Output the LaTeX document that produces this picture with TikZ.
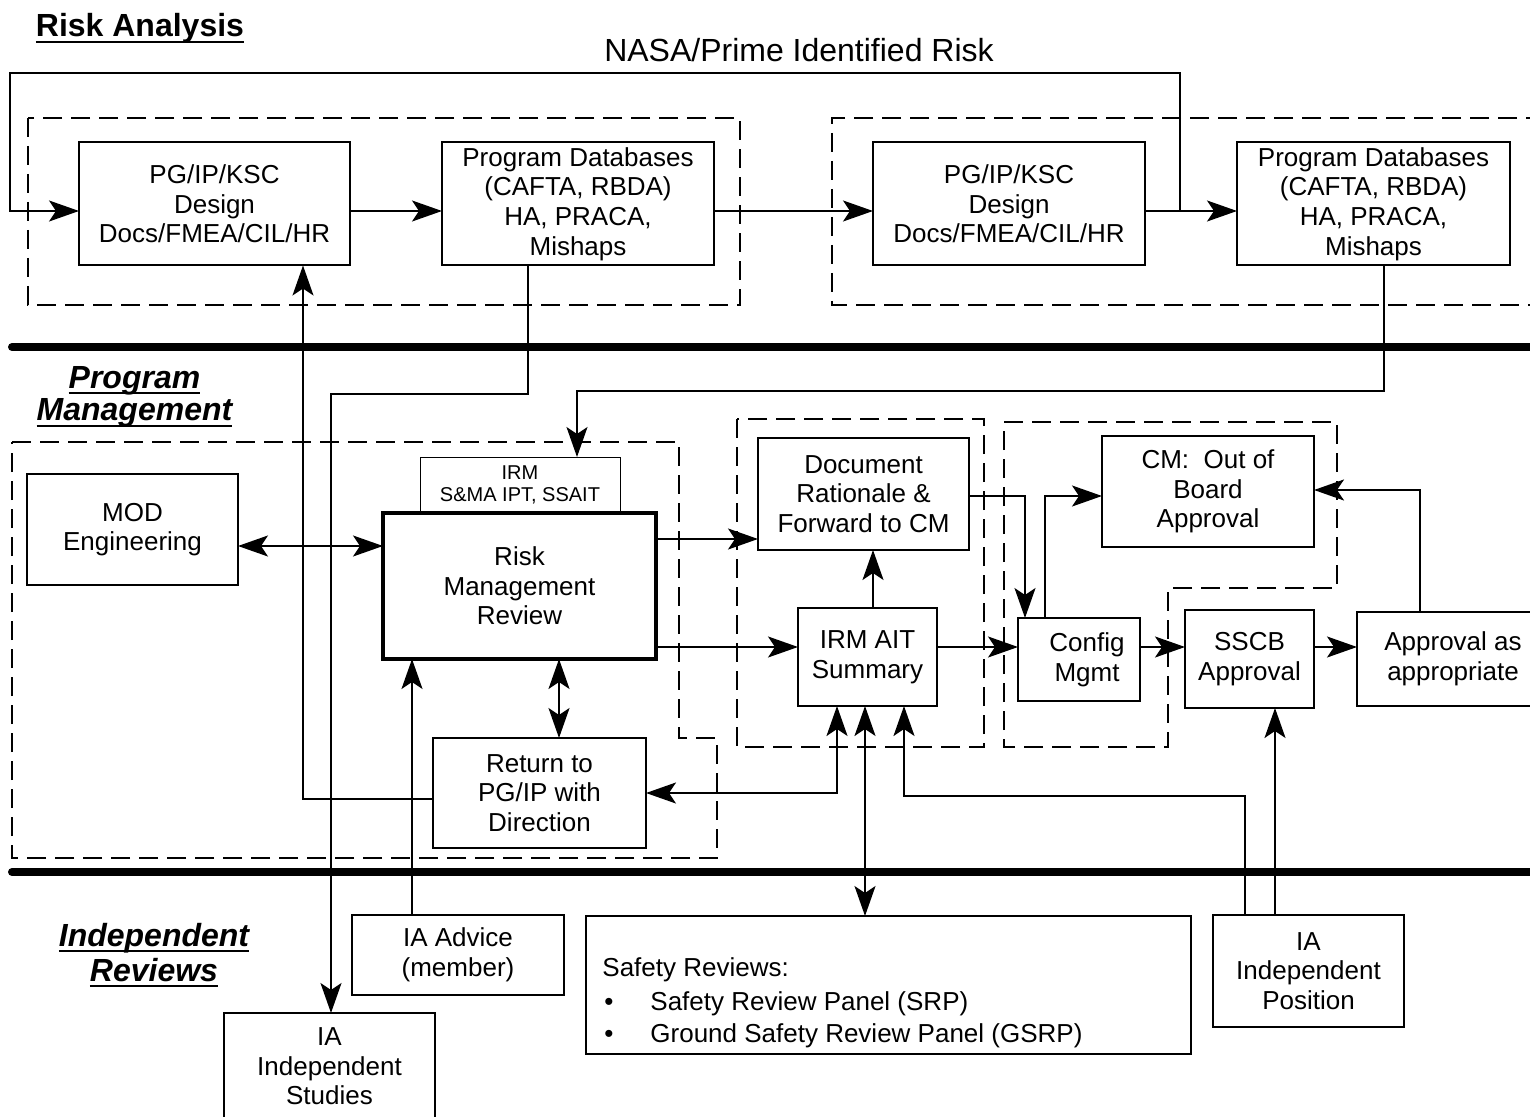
\documentclass[tikz,border=0pt]{standalone}
\usepackage{fontspec}
\setmainfont{Liberation Sans}
\usetikzlibrary{arrows.meta}
\newsavebox\hdbox
\newcommand\hdul[1]{\sbox\hdbox{#1}\rlap{\rule[-3pt]{\wd\hdbox}{1pt}}\usebox\hdbox}
\tikzset{
  sz/.style 2 args={minimum width=#1*0.5pt, minimum height=#2*0.5pt},
  box/.style={draw, line width=1pt, inner sep=0pt, outer sep=0pt, align=center,
              font=\fontsize{13}{14.8}\selectfont},
  smallbox/.style={box, line width=0.5pt, font=\fontsize{10}{11}\selectfont},
  thickbox/.style={box, line width=1.6pt},
  dbox/.style={draw, line width=1pt, dash pattern=on 9.5pt off 4.5pt},
  sepline/.style={line width=4pt, line cap=round},
  conn/.style={line width=1pt},
  tipa/.tip={Stealth[length=15pt,width=10.5pt,inset=3.5pt]},
  arr/.style={conn, -tipa},
  dblarr/.style={conn, tipa-tipa},
  headb/.style={inner sep=0pt, anchor=base, font=\fontsize{16}{17}\selectfont\bfseries},
  headbi/.style={inner sep=0pt, anchor=base, font=\fontsize{16}{17}\selectfont\bfseries\itshape},
  titletxt/.style={inner sep=0pt, anchor=base, font=\fontsize{16}{17}\selectfont},
  plaintxt/.style={inner sep=0pt, anchor=base west, font=\fontsize{13}{14.8}\selectfont}
}
\begin{document}
\begin{tikzpicture}[x=0.5pt,y=-0.5pt]
\useasboundingbox (0,0) rectangle (1530,1117);

% headings
\node[headb] (hRA) at (140,37) {\hdul{Risk Analysis}};
\node[titletxt] (hNASA) at (799,62) {NASA/Prime Identified Risk};
\node[headbi] (hPM1) at (134.5,388) {\hdul{Program}};
\node[headbi] (hPM2) at (134.5,421) {\hdul{Management}};
\node[headbi] (hIR1) at (154,946) {\hdul{Independent}};
\node[headbi] (hIR2) at (154,981) {\hdul{Reviews}};

% dashed groups
\draw[dbox] (28,118) rectangle (740,305);
\draw[dbox] (1545,118) -- (832,118) -- (832,305) -- (1545,305);
\draw[dbox] (12,442) -- (679,442) -- (679,738) -- (717,738) -- (717,858) -- (12,858) -- cycle;
\draw[dbox] (737,419) rectangle (984,747);
\draw[dbox] (1004,422) -- (1337,422) -- (1337,588) -- (1168,588) -- (1168,747) -- (1004,747) -- cycle;

% separators
\draw[sepline] (12,347) -- (1545,347);
\draw[sepline] (12,872) -- (1545,872);

% boxes
\node[box, sz={271}{123}] (A1) at (214.5,204) {PG/IP/KSC\\Design\\Docs/FMEA/CIL/HR};
\node[box, sz={272}{123}] (B1) at (578,204) {Program Databases\\(CAFTA, RBDA)\\HA, PRACA,\\Mishaps};
\node[box, sz={272}{123}] (A2) at (1009,204) {PG/IP/KSC\\Design\\Docs/FMEA/CIL/HR};
\node[box, sz={273}{123}] (B2) at (1373.5,204) {Program Databases\\(CAFTA, RBDA)\\HA, PRACA,\\Mishaps};
\node[box, sz={211}{111}] (MOD) at (132.5,529.5) {MOD\\Engineering};
\node[smallbox, sz={200}{56}] (IRM) at (520,485) {IRM\\S\&MA IPT, SSAIT};
\node[thickbox, sz={273}{146}] (RMR) at (519.5,586) {Risk\\Management\\Review};
\node[box, sz={213}{110}] (RET) at (539.5,793) {Return to\\PG/IP with\\Direction};
\node[box, sz={211}{112}] (DOC) at (863.5,494) {Document\\Rationale \&\\Forward to CM};
\node[box, sz={139}{98}] (AIT) at (867.5,657) {IRM AIT\\Summary};
\node[box, sz={122}{83}] (CFG) at (1079,659.5) {\hspace*{8pt}Config\\\hspace*{8pt}Mgmt};
\node[box, sz={212}{111}] (CM) at (1208,491.5) {CM:\ \ Out of\\Board\\Approval};
\node[box, sz={129}{98}] (SSCB) at (1249.5,659) {SSCB\\Approval};
\node[box, sz={192}{94}] (APP) at (1453,659) {Approval as\\appropriate};
\node[box, sz={212}{80}] (IAADV) at (458,955) {IA Advice\\(member)};
\node[box, sz={211}{107}] (IAST) at (329.5,1066.5) {IA\\Independent\\Studies};
\node[box, sz={605}{138}] (SAFE) at (888.5,985) {};
\node[box, sz={191}{112}] (IAIP) at (1308.5,971) {IA\\Independent\\Position};

% safety review text
\node[plaintxt] (s0) at (602,976) {Safety Reviews:};
\node[plaintxt] (s1b) at (604,1010) {•};
\node[plaintxt] (s1) at (650,1010) {Safety Review Panel (SRP)};
\node[plaintxt] (s2b) at (604,1042) {•};
\node[plaintxt] (s2) at (650,1042) {Ground Safety Review Panel (GSRP)};

% coordinates
\coordinate (r1) at (0,211);
\coordinate (j1) at (1180,211);
\coordinate (x303) at (303,799);
\coordinate (b1d) at (528,394);
\coordinate (b1c) at (331,394);
\coordinate (b2d) at (1384,391);
\coordinate (irmc) at (577,391);
\coordinate (y546) at (0,546);
\coordinate (y539) at (0,539);
\coordinate (y647) at (0,647);
\coordinate (x873) at (873,0);
\coordinate (dc) at (1025,496);
\coordinate (cc) at (1045,496);
\coordinate (ac) at (1420,490);
\coordinate (x559) at (559,0);
\coordinate (x412) at (412,0);
\coordinate (rc) at (837,793);
\coordinate (x865) at (865,0);
\coordinate (pc1) at (1245,796);
\coordinate (pc2) at (904,796);
\coordinate (x1275) at (1275,0);

% connectors (risk analysis)
\draw[arr] (A1.east |- r1) -- (B1.west |- r1);
\draw[arr] (B1.east |- r1) -- (A2.west |- r1);
\draw[arr] (A2.east |- r1) -- (B2.west |- r1);
\draw[arr] (j1) -- (1180,73) -- (10,73) -- (10,211) -- (A1.west |- r1);
\draw[arr, line width=0.7pt] (RET.west |- x303) -- (x303) -- (A1.south -| x303);
\draw[arr] (B1.south -| b1d) -- (b1d) -- (b1c) -- (IAST.north -| b1c);
\draw[arr] (B2.south -| b2d) -- (b2d) -- (irmc) -- (IRM.north -| irmc);

% program management
\draw[dblarr] (MOD.east |- y546) -- (RMR.west |- y546);
\draw[arr] (RMR.east |- y539) -- (DOC.west |- y539);
\draw[arr] (RMR.east |- y647) -- (AIT.west |- y647);
\draw[arr] (AIT.east |- y647) -- (CFG.west |- y647);
\draw[arr] (CFG.east |- y647) -- (SSCB.west |- y647);
\draw[arr] (SSCB.east |- y647) -- (APP.west |- y647);
\draw[arr] (AIT.north -| x873) -- (DOC.south -| x873);
\draw[arr] (DOC.east |- dc) -- (dc) -- (CFG.north -| dc);
\draw[arr] (CFG.north -| cc) -- (cc) -- (CM.west |- cc);
\draw[arr] (APP.north -| ac) -- (ac) -- (CM.east |- ac);
\draw[dblarr] (RMR.south -| x559) -- (RET.north -| x559);
\draw[arr] (IAADV.north -| x412) -- (RMR.south -| x412);
\draw[dblarr] (RET.east |- rc) -- (rc) -- (AIT.south -| rc);
\draw[dblarr] (AIT.south -| x865) -- (SAFE.north -| x865);
\draw[arr] (IAIP.north -| pc1) -- (pc1) -- (pc2) -- (AIT.south -| pc2);
\draw[arr] (IAIP.north -| x1275) -- (SSCB.south -| x1275);
\end{tikzpicture}
\end{document}
